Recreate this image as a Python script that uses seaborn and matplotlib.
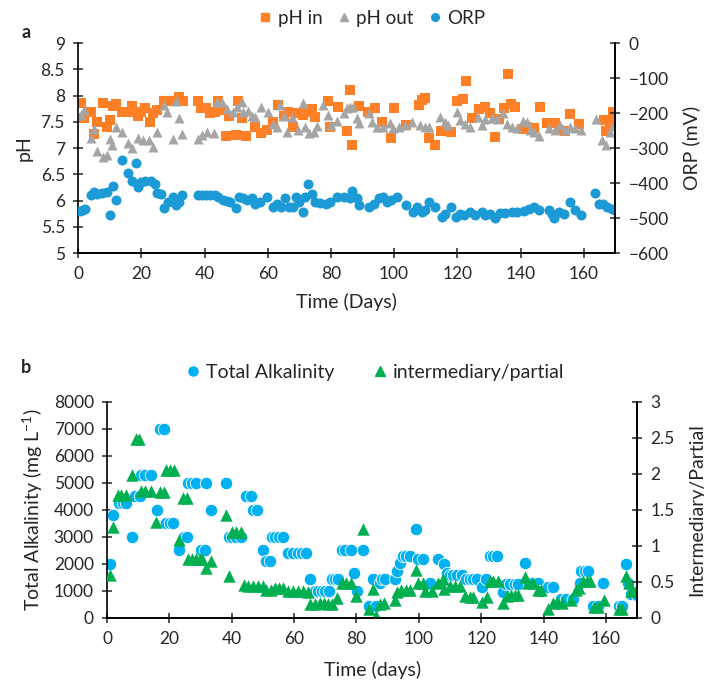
import seaborn as sns
import pandas as pd
import matplotlib.pyplot as plt
from matplotlib.lines import Line2D

# ---- panel a data ----
ph_in_day = [0.8, 1.8, 4, 5, 6.1, 7.9, 9, 10, 10.9, 12.1, 14, 15.3, 16.9, 17.6, 19, 20, 21.1, 22.7, 23.8, 25,
             27.2, 29, 30.6, 31.9, 33.3, 38, 38.9, 40.4, 41.7, 43.3, 44.4, 45.4, 46.8, 47.8, 50, 50.7, 52, 53,
             56, 57.9, 59.7, 61.8, 63.4, 65, 66.5, 67.9, 69.7, 71.3, 72.9, 73.9, 75, 79, 79.7, 82.1, 85, 85.9,
             86.8, 89, 91.6, 94, 96.1, 99, 100, 103.8, 108, 108.8, 109.8, 110.9, 113, 114.9, 118, 119.9, 121.8,
             122.8, 124.6, 127, 128.8, 130.2, 132, 133.1, 134.7, 136, 137, 138.2, 140.8, 142.1, 144.2, 146.1,
             148.4, 151, 152.1, 154.2, 155.6, 158.5, 166.4, 167.2, 168.3, 169.3, 170]
ph_in = [7.85, 7.57, 7.69, 7.27, 7.50, 7.85, 7.41, 7.54, 7.80, 7.84, 7.69, 7.69, 7.80, 7.68, 7.61, 7.69, 7.76,
         7.50, 7.66, 7.73, 7.90, 7.90, 7.90, 7.98, 7.90, 7.90, 7.76, 7.76, 7.66, 7.69, 7.89, 7.73, 7.23, 7.61,
         7.25, 7.89, 7.57, 7.23, 7.41, 7.29, 7.34, 7.50, 7.82, 7.61, 7.69, 7.41, 7.66, 7.63, 7.68, 7.75, 7.60,
         7.90, 7.41, 7.79, 7.32, 8.11, 7.06, 7.80, 7.69, 7.76, 7.50, 7.20, 7.77, 7.44, 7.82, 7.92, 7.96, 7.20,
         7.06, 7.33, 7.31, 7.90, 7.93, 8.28, 7.57, 7.75, 7.79, 7.66, 7.22, 7.55, 7.76, 8.41, 7.84, 7.79, 7.36,
         7.41, 7.38, 7.78, 7.47, 7.47, 7.34, 7.33, 7.65, 7.46, 7.54, 7.33, 7.50, 7.68, 7.55]

ph_out_day = [1, 1.9, 4, 5, 6, 7.9, 9, 10, 10.8, 11.9, 13.9, 15.8, 17.1, 19, 20.6, 22.5, 23.8, 25.1, 27.2, 28.2,
              29.9, 30.9, 32, 32.9, 38, 39.1, 40.9, 43.1, 43.8, 45.4, 47, 48.9, 50.2, 51.7, 52.3, 53.6, 54.9,
              56, 57.9, 60, 61.8, 62.8, 63.9, 65, 66, 67.6, 69.7, 71.1, 71.8, 73.2, 74.5, 75.7, 77.6, 79, 80.1,
              81.9, 84, 85, 86.1, 87.1, 88.2, 88.9, 91.9, 92.9, 94.5, 96.6, 98.7, 99.8, 101.4, 103.5, 105.6,
              108.2, 109.8, 110.9, 114.6, 116.2, 117.2, 119.9, 120.9, 122.5, 124.1, 126.7, 127.8, 128.9, 131,
              132.6, 134.5, 135.7, 137.3, 138.9, 140.8, 141.9, 143.1, 144.2, 145.8, 148.9, 151, 152.6, 154.2,
              155.8, 157.4, 159, 164, 165.8, 166.9, 168.3, 169.3]
ph_out = [7.63, 7.73, 7.20, 7.36, 6.95, 6.83, 6.87, 7.18, 7.06, 7.41, 7.30, 7.09, 7.01, 7.20, 7.15, 7.15, 7.03,
          7.31, 7.82, 7.69, 7.17, 7.90, 7.57, 7.27, 7.18, 7.25, 7.31, 7.28, 7.87, 7.87, 7.74, 7.68, 7.78, 7.87,
          7.68, 7.71, 7.61, 7.59, 7.79, 7.69, 7.46, 7.41, 7.82, 7.61, 7.31, 7.59, 7.34, 7.85, 7.41, 7.28, 7.31,
          7.43, 7.82, 7.63, 7.44, 7.52, 7.66, 7.76, 7.79, 7.78, 7.57, 7.47, 7.66, 7.50, 7.41, 7.41, 7.48, 7.39,
          7.41, 7.44, 7.50, 7.44, 7.41, 7.41, 7.59, 7.50, 7.44, 7.69, 7.54, 7.46, 7.41, 7.60, 7.44, 7.55, 7.57,
          7.55, 7.66, 7.46, 7.41, 7.39, 7.52, 7.50, 7.34, 7.31, 7.23, 7.38, 7.34, 7.44, 7.34, 7.41, 7.38, 7.34,
          7.55, 7.15, 7.06, 7.31, 7.42]

orp_day = [0.5, 1.4, 2.3, 4, 5, 6, 7.4, 9, 10, 10.9, 12.1, 13.9, 15.8, 17.1, 18.2, 19, 19.8, 21.1, 23, 24.3,
           25.1, 26.2, 27.2, 28.3, 29.9, 31.1, 32, 33, 37.8, 39.1, 40.4, 41.7, 43.3, 44.4, 46, 47, 48, 50, 51,
           52.3, 53.3, 54.9, 56, 57.5, 59.7, 61.8, 63, 64.1, 65.5, 66.8, 67.9, 69, 70, 71.1, 71.8, 72.9, 73.9,
           75, 76.6, 78.5, 79.7, 81.9, 84, 85.9, 86.8, 88.2, 89, 91.9, 93.5, 95.1, 96.4, 97.7, 99, 100.9, 103.8,
           105.9, 107.4, 108.8, 109.8, 110.9, 113, 115.1, 116.2, 118, 119.7, 120.9, 122, 124.1, 125.7, 127.8,
           128.8, 130.4, 132, 133.6, 135.2, 137.3, 138.9, 141, 142.6, 144.2, 145.8, 148.9, 150, 150.7, 152.1,
           153.7, 155.8, 157.4, 159, 163.7, 164.8, 166.2, 167.4, 169, 170]
orp = [-480, -477, -475, -435, -425, -430, -428, -425, -492, -407, -449, -335, -371, -393, -344, -410, -396, -393,
       -393, -404, -428, -432, -470, -455, -440, -464, -455, -435, -434, -434, -434, -435, -435, -440, -447, -452,
       -455, -470, -441, -444, -449, -444, -461, -455, -440, -468, -459, -467, -444, -468, -468, -440, -455, -483,
       -440, -404, -430, -455, -456, -461, -455, -440, -440, -444, -423, -444, -464, -468, -459, -444, -440, -455,
       -447, -440, -464, -483, -467, -483, -477, -455, -468, -497, -488, -468, -497, -489, -492, -483, -492, -483,
       -492, -488, -500, -486, -486, -483, -483, -480, -473, -468, -477, -477, -488, -501, -483, -489, -455, -477,
       -492, -428, -459, -459, -468, -473, -477]

# ---- panel b data ----
ta_day = [1.1, 1.9, 3.9, 5.1, 6.2, 8.1, 8.9, 10.5, 11, 12.1, 14, 16.1, 16.9, 18.2, 19, 20.1, 21.2, 23.1, 24.7,
          25.5, 26, 27.1, 28.4, 30.3, 31.3, 31.9, 33.2, 38.1, 39.1, 40.2, 41.5, 43.1, 44.7, 46.3, 46.8, 48.2, 50,
          51.1, 52.2, 52.9, 54, 55.2, 56.3, 57.9, 59.7, 61.3, 62.4, 63.7, 65, 66.6, 67.7, 68.8, 69.8, 71.2, 72, 73,
          74.1, 75.2, 76.2, 78.1, 79.1, 80.2, 82.1, 84, 85.3, 86.4, 87.5, 88.3, 89.3, 92.3, 93.1, 93.9, 95, 96,
          97.3, 99, 99.8, 101.2, 103.7, 106.2, 108.1, 108.9, 109.9, 111, 112.1, 113.7, 115.1, 116.3, 117.4, 118.5,
          120.4, 121.5, 122.8, 123.8, 125.1, 127, 128.1, 129.2, 130.8, 131.9, 134.2, 135.3, 136.6, 138.2, 139.3,
          141.4, 143, 145.7, 147.3, 149.4, 151.6, 152.1, 153.2, 154.2, 155.8, 157.5, 159.1, 164.2, 165.3, 166.3,
          167.1, 168.1, 170]
ta = [2000, 3800, 4250, 4250, 4250, 3000, 4500, 4500, 5300, 5300, 5300, 4000, 7000, 7000, 3500, 3500, 3500, 2500,
      3000, 3000, 5000, 5000, 5000, 2500, 2500, 5000, 4000, 5000, 3000, 3000, 3000, 3000, 4500, 4500, 4000, 4000,
      2500, 2100, 2100, 3000, 3000, 3000, 3000, 2400, 2400, 2400, 2400, 2400, 1450, 1000, 1000, 1000, 1000, 1000,
      1450, 1450, 1450, 2500, 2500, 2500, 1650, 1000, 2500, 450, 1450, 450, 1300, 1450, 1450, 1450, 1750, 2050,
      2300, 2300, 2300, 3300, 2200, 2200, 1300, 2200, 2000, 1650, 1600, 1600, 1600, 1600, 1450, 1450, 1450, 1450,
      1150, 1450, 2300, 2300, 2300, 950, 1250, 1250, 1250, 1250, 2050, 1300, 1300, 1300, 1000, 1150, 1150, 700,
      700, 700, 1300, 1750, 1750, 1750, 450, 450, 1300, 450, 450, 2000, 1300, 900, 850]

ratio_day = [1.1, 1.9, 3.5, 4.6, 6, 8.1, 9.2, 10.3, 11, 12.1, 14, 15.8, 16.9, 18.2, 18.8, 20.1, 21.4, 23.1, 24.4,
             25.5, 26, 27.1, 28.4, 29.7, 30.6, 31.9, 33.2, 38.1, 39.1, 40.2, 41.5, 43.1, 44, 45.2, 46.8, 48.4, 50,
             51.1, 52.7, 53.8, 55.2, 56.3, 57.9, 59.7, 61.3, 62.9, 64.5, 65.2, 66.6, 68.2, 69.5, 70.9, 72.2, 73.8,
             75.2, 76.8, 78.4, 80, 82.1, 84, 85.3, 86.2, 87.5, 88.8, 92.3, 93.1, 94.4, 95.8, 97.1, 99, 99.8, 101.2,
             101.9, 104.1, 106, 107.8, 108.1, 109.9, 111.5, 113.1, 114.7, 116.3, 117.4, 120.1, 121.7, 122.8, 123.8,
             125.4, 127, 128.3, 129.4, 130.8, 131.9, 133.9, 135, 136.6, 138.2, 139.3, 141.4, 143, 144.3, 146, 148.9,
             150.3, 151.4, 152.6, 153.9, 155, 156.2, 157.5, 159.3, 164.2, 165.3, 166.3, 167.4, 168.1, 169.5]
ratio = [0.59, 1.26, 1.71, 1.71, 1.71, 1.99, 2.49, 2.49, 1.76, 1.76, 1.76, 1.33, 1.75, 1.75, 2.06, 2.06, 2.06,
         1.08, 1.67, 1.67, 0.82, 0.82, 0.82, 0.82, 0.82, 0.69, 0.79, 1.43, 0.58, 1.19, 1.19, 1.19, 0.46, 0.45,
         0.45, 0.44, 0.44, 0.39, 0.39, 0.42, 0.42, 0.42, 0.37, 0.37, 0.37, 0.37, 0.36, 0.19, 0.19, 0.21, 0.21,
         0.19, 0.19, 0.28, 0.49, 0.49, 0.49, 0.31, 1.24, 0.13, 0.40, 0.03, 0.19, 0.21, 0.25, 0.36, 0.39, 0.39,
         0.39, 0.66, 0.49, 0.49, 0.37, 0.38, 0.49, 0.54, 0.40, 0.44, 0.44, 0.44, 0.30, 0.29, 0.29, 0.22, 0.29,
         0.51, 0.51, 0.51, 0.21, 0.30, 0.32, 0.32, 0.32, 0.57, 0.49, 0.49, 0.39, 0.39, 0.13, 0.21, 0.22, 0.21,
         0.25, 0.39, 0.42, 0.51, 0.52, 0.52, 0.15, 0.15, 0.25, 0.13, 0.13, 0.58, 0.49, 0.37, 0.37]

c_in, c_out, c_orp = "#FF7F27", "#A5A5A5", "#1B9AD6"
c_ta, c_ratio = "#00B0F0", "#00B050"

sns.set_style("ticks")
plt.rcParams['font.family'] = ['Lato', 'DejaVu Sans']
plt.rcParams['mathtext.fontset'] = 'custom'
plt.rcParams['mathtext.rm'] = 'Lato'

fig = plt.figure(figsize=(7.04, 6.84), dpi=100)


def style_axis(ax, right=False):
    ax.spines['top'].set_visible(False)
    for s in ax.spines.values():
        s.set_linewidth(1.2)
        s.set_color("black")
    ax.tick_params(direction='inout', length=7, width=1.1, labelsize=12.5, pad=6)
    if right:
        ax.spines['left'].set_visible(False)


# ---- panel a ----
ax1 = fig.add_axes([0.111, 0.630, 0.763, 0.307])
sns.scatterplot(x=ph_in_day, y=ph_in, ax=ax1, marker='s', s=48, color=c_in, linewidth=0, legend=False)
sns.scatterplot(x=ph_out_day, y=ph_out, ax=ax1, marker='^', s=52, color=c_out, linewidth=0, legend=False)
ax1.set_xlim(0, 170)
ax1.set_ylim(5, 9)
ax1.set_xticks(range(0, 161, 20))
ax1.set_yticks([5, 5.5, 6, 6.5, 7, 7.5, 8, 8.5, 9])
ax1.set_yticklabels(['5', '5.5', '6', '6.5', '7', '7.5', '8', '8.5', '9'])
ax1.set_xlabel('Time (Days)', fontsize=14, labelpad=8)
ax1.set_ylabel('pH', fontsize=14, labelpad=6)
style_axis(ax1)

ax1r = ax1.twinx()
sns.scatterplot(x=orp_day, y=orp, ax=ax1r, marker='o', s=52, color=c_orp, linewidth=0, legend=False)
ax1r.set_ylim(-600, 0)
ax1r.set_yticks(range(-600, 1, 100))
ax1r.set_ylabel('ORP (mV)', fontsize=14, labelpad=10)
style_axis(ax1r, right=True)

h_a = [Line2D([], [], ls='', marker='s', ms=5.5, color=c_in),
       Line2D([], [], ls='', marker='^', ms=5.5, color=c_out),
       Line2D([], [], ls='', marker='o', ms=5.5, color=c_orp)]
fig.legend(h_a, ['pH in', 'pH out', 'ORP'], loc='center', bbox_to_anchor=(0.526, 0.973), ncol=3,
           frameon=False, fontsize=13.5, handletextpad=0.1, handlelength=1.1, columnspacing=0.6)
fig.text(0.03, 0.945, 'a', fontsize=13, fontweight='bold')

# ---- panel b ----
ax2 = fig.add_axes([0.152, 0.0965, 0.753, 0.316])
sns.scatterplot(x=ta_day, y=ta, ax=ax2, marker='o', s=80, color=c_ta, edgecolor='white', linewidth=0.6, legend=False)
ax2.set_xlim(0, 170)
ax2.set_ylim(0, 8000)
ax2.set_xticks(range(0, 161, 20))
ax2.set_yticks(range(0, 8001, 1000))
ax2.set_xlabel('Time (days)', fontsize=14, labelpad=10)
ax2.set_ylabel('Total Alkalinity (mg L$^{-1}$)', fontsize=14, labelpad=6)
style_axis(ax2)

ax2r = ax2.twinx()
sns.scatterplot(x=ratio_day, y=ratio, ax=ax2r, marker='^', s=80, color=c_ratio, linewidth=0, legend=False)
ax2r.set_ylim(0, 3)
ax2r.set_yticks([0, 0.5, 1, 1.5, 2, 2.5, 3])
ax2r.set_yticklabels(['0', '0.5', '1', '1.5', '2', '2.5', '3'])
ax2r.set_ylabel('Intermediary/Partial', fontsize=14, labelpad=10)
style_axis(ax2r, right=True)

h_b = [Line2D([], [], ls='', marker='o', ms=6.5, color=c_ta),
       Line2D([], [], ls='', marker='^', ms=6.5, color=c_ratio)]
fig.legend(h_b, ['Total Alkalinity', 'intermediary/partial'], loc='center', bbox_to_anchor=(0.53, 0.455), ncol=2,
           frameon=False, fontsize=14, handletextpad=0.1, handlelength=1.1, columnspacing=1.8)
fig.text(0.03, 0.455, 'b', fontsize=13, fontweight='bold')

fig.savefig('out.png', dpi=100)
